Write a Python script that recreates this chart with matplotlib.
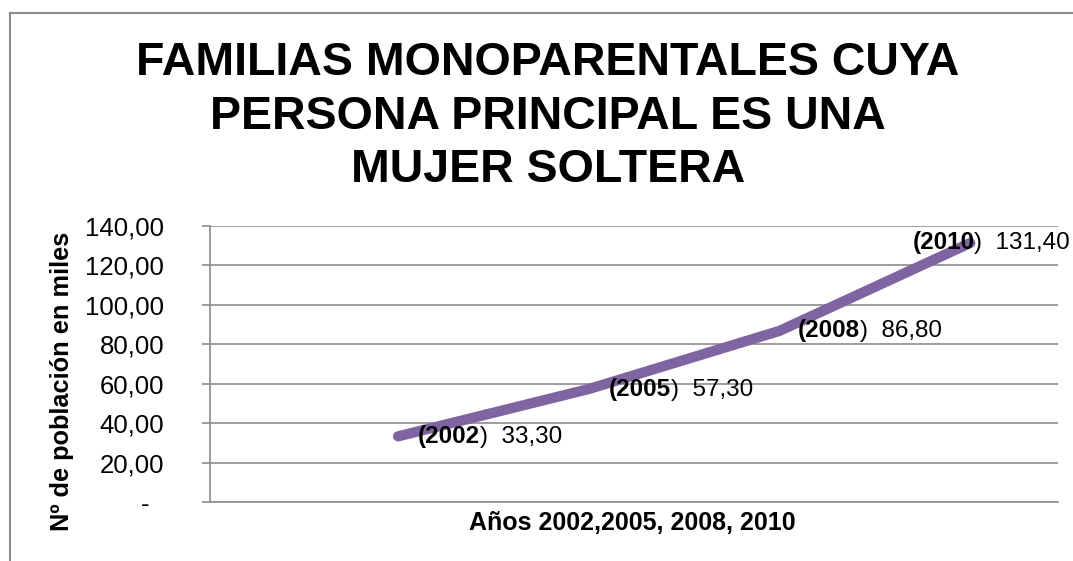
import matplotlib
matplotlib.use("Agg")
import matplotlib.pyplot as plt
from matplotlib.lines import Line2D

plt.rcParams['font.family'] = ['Liberation Sans', 'DejaVu Sans']

# datos
years = ['2002', '2005', '2008', '2010']
values = [33.30, 57.30, 86.80, 131.40]
y_ticks = [0, 20, 40, 60, 80, 100, 120, 140]

title = 'FAMILIAS MONOPARENTALES CUYA\nPERSONA PRINCIPAL ES UNA\nMUJER SOLTERA'
ylabel = 'Nº de población en miles'
xlabel = 'Años 2002,2005, 2008, 2010'

W, H = 1073, 561
fig = plt.figure(figsize=(W / 100, H / 100), dpi=100)

# area de trazado (pixeles -> fraccion)
left, right, top, bottom = 210, 1058, 226, 502
ax = fig.add_axes([left / W, 1 - bottom / H, (right - left) / W, (bottom - top) / H])

x = list(range(len(years)))
ax.plot(x, values, color='#8064A2', lw=7.4, solid_capstyle='round',
        solid_joinstyle='round', zorder=3)

ax.set_xlim(-0.986, 3.46)
ax.set_ylim(0, 140)

grid_col = '#8c8c8c'
ax.set_yticks(y_ticks)
ax.set_yticklabels(['-  '] + [('%.2f' % t).replace('.', ',') for t in y_ticks[1:]])
ax.tick_params(axis='y', length=6, width=1.2, color=grid_col, pad=27,
               labelsize=18.5, labelcolor='black')
ax.set_xticks([])
ax.yaxis.grid(True, color=grid_col, lw=1.2)
ax.set_axisbelow(True)
for s in ['top', 'right']:
    ax.spines[s].set_visible(False)
for s in ['left', 'bottom']:
    ax.spines[s].set_color(grid_col)
    ax.spines[s].set_linewidth(1.2)

# etiquetas de datos
offsets = [20, 20, 18, -58]
for i, (yr, v) in enumerate(zip(years, values)):
    t1 = ax.annotate('(' + yr, xy=(i, v), xytext=(offsets[i], 0),
                     textcoords='offset pixels', ha='left', va='center',
                     fontsize=17.5, fontweight='bold', zorder=4)
    ax.annotate(')  ' + ('%.2f' % v).replace('.', ','), xy=(1, 0), xycoords=t1,
                ha='left', va='bottom', fontsize=17.5, zorder=4,
                annotation_clip=False)

# textos
fig.text(548 / W, 1 - 41 / H, title, ha='center', va='top', fontsize=33.5,
         fontweight='bold', linespacing=1.28)
fig.text(62 / W, 1 - 381 / H, ylabel, rotation=90, ha='center', va='center',
         fontsize=18.3, fontweight='bold')
fig.text(632 / W, 1 - 530 / H, xlabel, ha='center', va='baseline',
         fontsize=18, fontweight='bold')

# borde del grafico
bc = '#8a8a8a'
fig.add_artist(Line2D([9.5 / W, 9.5 / W], [0, 1 - 13 / H], color=bc, lw=1.5))
fig.add_artist(Line2D([9.5 / W, 1], [1 - 13 / H, 1 - 13 / H], color=bc, lw=1.5))

fig.savefig('out.png', dpi=100)
